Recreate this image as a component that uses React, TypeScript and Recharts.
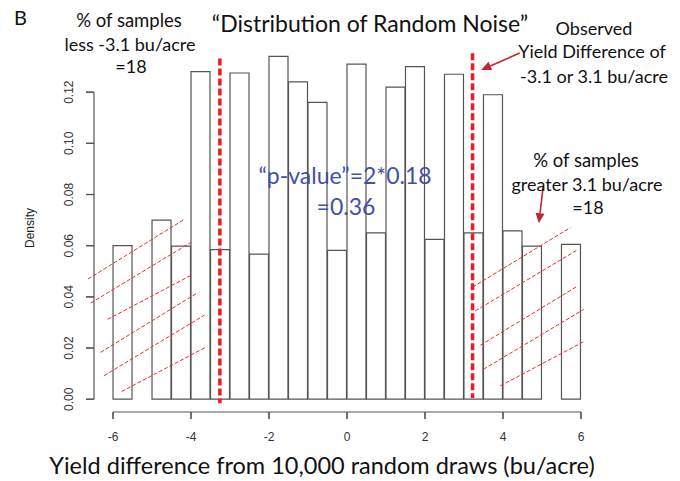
import {
  ComposedChart,
  Bar,
  XAxis,
  YAxis,
  ReferenceLine
} from 'recharts'

// histogram bins (width 0.5) — midpoints and density
const binMids = [
  -5.75, -5.25, -4.75, -4.25, -3.75, -3.25, -2.75, -2.25, -1.75, -1.25, -0.75, -0.25,
  0.25, 0.75, 1.25, 1.75, 2.25, 2.75, 3.25, 3.75, 4.25, 4.75, 5.25, 5.75
]
const densities = [
  0.060, 0, 0.070, 0.0598, 0.128, 0.0585, 0.1275, 0.0567, 0.134, 0.124, 0.116, 0.0582,
  0.131, 0.065, 0.122, 0.130, 0.0625, 0.127, 0.065, 0.119, 0.0658, 0.0598, 0, 0.0605
]

const xTicks = [-6, -4, -2, 0, 2, 4, 6]
const yTicks = [0, 0.02, 0.04, 0.06, 0.08, 0.1, 0.12]

// observed difference lines
const observedLeft = -3.26
const observedRight = 3.22

// hatching segments [x1, y1, x2, y2]
const leftHatch = [
  [-6.64, 0.0470, -4.16, 0.0704],
  [-6.57, 0.0376, -4.0, 0.0613],
  [-6.14, 0.0312, -3.99, 0.0485],
  [-6.32, 0.0183, -3.82, 0.0417],
  [-6.23, 0.0092, -3.65, 0.0329],
  [-5.78, 0.0030, -3.65, 0.0201]
]
const rightHatch = [
  [3.22, 0.0438, 5.73, 0.0671],
  [3.29, 0.0345, 5.88, 0.0581],
  [3.42, 0.0211, 5.92, 0.0443],
  [3.5, 0.0117, 6.07, 0.0351],
  [3.93, 0.0052, 6.07, 0.0225]
]

// annotation arrows [tailX, tailY, headX, headY]
const arrows = [
  [4.43, 0.1353, 3.44, 0.1287],
  [5.03, 0.0831, 4.92, 0.0688]
]

const data = binMids.map((mid, i) => ({ mid, density: densities[i] }))

// chart layout (shared by the chart and the R-style axis overlay)
const W = 680
const H = 481
const margin = { top: 41, right: 80, bottom: 29, left: 0 }
const yAxisWidth = 94
const xAxisHeight = 40
const xDomain = [-6.488, 6.488]
const yDomain = [-0.005, 0.14]
const plotLeft = margin.left + yAxisWidth
const plotW = W - margin.right - plotLeft
const plotTop = margin.top
const plotH = H - margin.bottom - xAxisHeight - plotTop
const sx = (v: number) => plotLeft + ((v - xDomain[0]) / (xDomain[1] - xDomain[0])) * plotW
const sy = (v: number) => plotTop + ((yDomain[1] - v) / (yDomain[1] - yDomain[0])) * plotH

const axisFont = '"Liberation Sans", Arial, sans-serif'
const noteFont = 'Lato, "Open Sans", sans-serif'

function XTick({ x, y, payload }: any) {
  return (
    <text x={x} y={y} dy={12} textAnchor="middle" fontFamily={axisFont} fontSize={12} fill="#333">
      {payload.value}
    </text>
  )
}

function YTick({ x, y, payload }: any) {
  return (
    <text
      x={x}
      y={y}
      textAnchor="middle"
      transform={`rotate(-90, ${x}, ${y})`}
      fontFamily={axisFont}
      fontSize={12}
      fill="#333"
    >
      {Number(payload.value).toFixed(2)}
    </text>
  )
}

function Arrow(props: any) {
  const { x1, y1, x2, y2 } = props
  const a = Math.atan2(y2 - y1, x2 - x1)
  const len = 10
  const w = 4.5
  const bx = x2 - len * Math.cos(a)
  const by = y2 - len * Math.sin(a)
  const px = -Math.sin(a) * w
  const py = Math.cos(a) * w
  return (
    <g>
      <line x1={x1} y1={y1} x2={bx} y2={by} stroke="#c1272d" strokeWidth={1.6} />
      <polygon points={`${x2},${y2} ${bx + px},${by + py} ${bx - px},${by - py}`} fill="#c1272d" />
    </g>
  )
}

function App() {
  const axisY = sy(yDomain[0])
  return (
    <div style={{ position: 'absolute', left: 0, top: 0, width: W, height: H, background: '#fff' }}>
      <ComposedChart
        width={W}
        height={H}
        data={data}
        margin={margin}
        barCategoryGap={0}
        barGap={0}
      >
        <XAxis
          dataKey="mid"
          type="number"
          domain={xDomain}
          allowDataOverflow
          ticks={xTicks}
          axisLine={false}
          tickLine={{ stroke: '#555', strokeWidth: 1.2 }}
          tickSize={7}
          tickMargin={10}
          height={xAxisHeight}
          tick={<XTick />}
        />
        <YAxis
          type="number"
          domain={yDomain}
          allowDataOverflow
          ticks={yTicks}
          axisLine={false}
          tickLine={{ stroke: '#555', strokeWidth: 1.2 }}
          tickSize={8}
          tickMargin={13}
          width={yAxisWidth}
          tick={<YTick />}
        />
        <Bar
          dataKey="density"
          fill="#fff"
          stroke="#555"
          strokeWidth={1.2}
          isAnimationActive={false}
        />
        {[...leftHatch, ...rightHatch].map((s, i) => (
          <ReferenceLine
            key={'h' + i}
            segment={[{ x: s[0], y: s[1] }, { x: s[2], y: s[3] }]}
            stroke="#ee2b2b"
            strokeWidth={1}
            strokeDasharray="4 2"
            ifOverflow="visible"
          />
        ))}
        <ReferenceLine
          key="obsL"
          segment={[{ x: observedLeft, y: 0.1332 }, { x: observedLeft, y: -0.0016 }]}
          stroke="#ec1c24"
          strokeWidth={3.5}
          strokeDasharray="7 3"
          ifOverflow="visible"
        />
        <ReferenceLine
          key="obsR"
          segment={[{ x: observedRight, y: 0.1352 }, { x: observedRight, y: 0.0005 }]}
          stroke="#ec1c24"
          strokeWidth={3.5}
          strokeDasharray="7 3"
          ifOverflow="visible"
        />
        {arrows.map((a, i) => (
          <ReferenceLine
            key={'a' + i}
            segment={[{ x: a[0], y: a[1] }, { x: a[2], y: a[3] }]}
            ifOverflow="visible"
            shape={<Arrow />}
          />
        ))}
      </ComposedChart>

      <svg
        width={W}
        height={H}
        style={{ position: 'absolute', left: 0, top: 0, pointerEvents: 'none' }}
      >
        {/* R-style detached axes */}
        <g stroke="#555" strokeWidth={1.2}>
          <line x1={sx(xTicks[0])} y1={axisY} x2={sx(xTicks[xTicks.length - 1])} y2={axisY} />
          {xTicks.map(t => (
            <line key={'xt' + t} x1={sx(t)} y1={axisY} x2={sx(t)} y2={axisY + 7} />
          ))}
          <line x1={plotLeft} y1={sy(yTicks[0])} x2={plotLeft} y2={sy(yTicks[yTicks.length - 1])} />
          {yTicks.map(t => (
            <line key={'yt' + t} x1={plotLeft} y1={sy(t)} x2={plotLeft - 8} y2={sy(t)} />
          ))}
        </g>

        <g fontFamily={noteFont} fill="#111">
          <text x={14} y={25} fontSize={20}>B</text>
          <text x={370} y={32} fontSize={23} textAnchor="middle">“Distribution of Random Noise”</text>

          <text x={129} y={27} fontSize={18.5} textAnchor="middle">% of samples</text>
          <text x={130} y={51} fontSize={18} textAnchor="middle">less -3.1 bu/acre</text>
          <text x={131} y={73} fontSize={18} textAnchor="middle">=18</text>

          <text x={594} y={35} fontSize={18} textAnchor="middle">Observed</text>
          <text x={592} y={58} fontSize={18} textAnchor="middle">Yield Difference of</text>
          <text x={594} y={83} fontSize={18} textAnchor="middle">-3.1 or 3.1 bu/acre</text>

          <text x={586} y={167} fontSize={18.5} textAnchor="middle">% of samples</text>
          <text x={587} y={191} fontSize={18} textAnchor="middle">greater 3.1 bu/acre</text>
          <text x={588} y={214} fontSize={18} textAnchor="middle">=18</text>

          <text x={345} y={184} fontSize={23} textAnchor="middle" fill="#3f51a8">“p-value”=2*0.18</text>
          <text x={346} y={215} fontSize={23} textAnchor="middle" fill="#3f51a8">=0.36</text>

          <text x={322} y={474} fontSize={23.5} textAnchor="middle">
            Yield difference from 10,000 random draws (bu/acre)
          </text>
        </g>
        <text
          x={34}
          y={228}
          fontFamily={axisFont}
          fontSize={12}
          fill="#222"
          textAnchor="middle"
          transform="rotate(-90, 34, 228)"
        >
          Density
        </text>
      </svg>
    </div>
  )
}

export default App
